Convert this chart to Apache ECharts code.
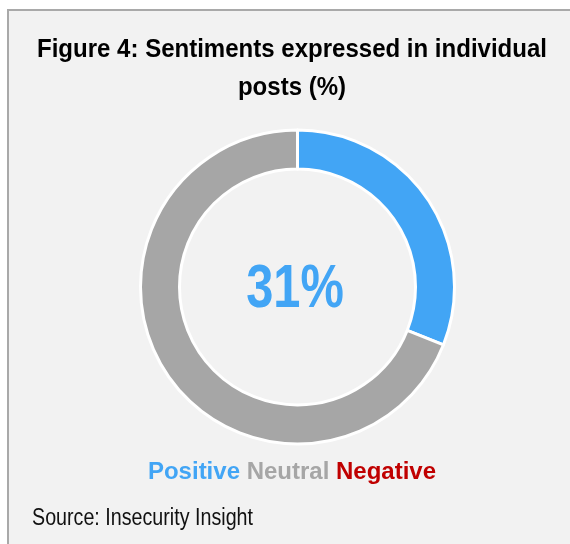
<!DOCTYPE html>
<html>
<head>
<meta charset="utf-8">
<script src="https://cdn.jsdelivr.net/npm/echarts@6/dist/echarts.min.js"></script>
<style>
  html, body { margin: 0; padding: 0; background: #ffffff; }
  #chart { width: 570px; height: 544px; }
</style>
</head>
<body>
<div id="chart"></div>
<script>
// Sentiment categories and their shares (%)
const categories = ['Positive', 'Neutral', 'Negative'];
const shares = [31, 69, 0];
const colors = ['#42a5f5', '#a6a6a6', '#c00000'];

const FONT = '"Liberation Sans", Arial, sans-serif';
const TITLE_LINES = ['Figure 4: Sentiments expressed in individual', 'posts (%)'];

// Condensed look: horizontally squeeze Liberation Sans to an Arial Narrow width
const measure = (() => {
  const ctx = document.createElement('canvas').getContext('2d');
  return (font, s) => { ctx.font = font; return ctx.measureText(s).width; };
})();
const titleScale = 510 / measure('bold 25px "Liberation Sans"', TITLE_LINES[0]);
const SOURCE = 'Source: Insecurity Insight';
const sourceScale = 221 / measure('23px "Liberation Sans"', SOURCE);

const chart = echarts.init(document.getElementById('chart'), null, { renderer: 'canvas' });

const legendRich = {};
categories.forEach((c, i) => {
  legendRich['c' + i] = { fill: colors[i], fontSize: 24, fontWeight: 'bold', fontFamily: FONT };
});
const legendText = categories.map((c, i) => '{c' + i + '|' + c + '}').join(' ');

chart.setOption({
  backgroundColor: '#ffffff',
  graphic: [
    {
      type: 'rect',
      z: -10,
      silent: true,
      shape: { x: 8, y: 10, width: 600, height: 600 },
      style: { fill: '#f2f2f2', stroke: '#a9a9a9', lineWidth: 2 }
    },
    {
      type: 'text',
      x: 292, y: 50, scaleX: titleScale,
      style: {
        text: TITLE_LINES[0], fill: '#000000',
        font: 'bold 25px ' + FONT, textAlign: 'center', textVerticalAlign: 'middle'
      }
    },
    {
      type: 'text',
      x: 292, y: 88, scaleX: titleScale,
      style: {
        text: TITLE_LINES[1], fill: '#000000',
        font: 'bold 25px ' + FONT, textAlign: 'center', textVerticalAlign: 'middle'
      }
    },
    {
      type: 'text',
      x: 295, y: 290, scaleX: 0.8,
      style: {
        text: shares[0] + '%', fill: colors[0],
        font: 'bold 61px ' + FONT, textAlign: 'center', textVerticalAlign: 'middle'
      }
    },
    {
      type: 'text',
      x: 292, y: 472,
      style: {
        text: legendText, rich: legendRich,
        font: 'bold 24px ' + FONT, textAlign: 'center', textVerticalAlign: 'middle'
      }
    },
    {
      type: 'text',
      x: 32, y: 519, scaleX: sourceScale,
      style: {
        text: SOURCE, fill: '#111111',
        font: '23px ' + FONT, textAlign: 'left', textVerticalAlign: 'middle'
      }
    }
  ],
  series: [
    {
      type: 'pie',
      center: [297.5, 287],
      radius: [118, 157],
      startAngle: 90,
      clockwise: true,
      avoidLabelOverlap: false,
      label: { show: false },
      labelLine: { show: false },
      emphasis: { disabled: true },
      silent: true,
      animation: false,
      itemStyle: { borderColor: '#ffffff', borderWidth: 3 },
      data: categories.map((c, i) => ({
        name: c,
        value: shares[i],
        itemStyle: { color: colors[i] }
      }))
    }
  ]
});
</script>
</body>
</html>
